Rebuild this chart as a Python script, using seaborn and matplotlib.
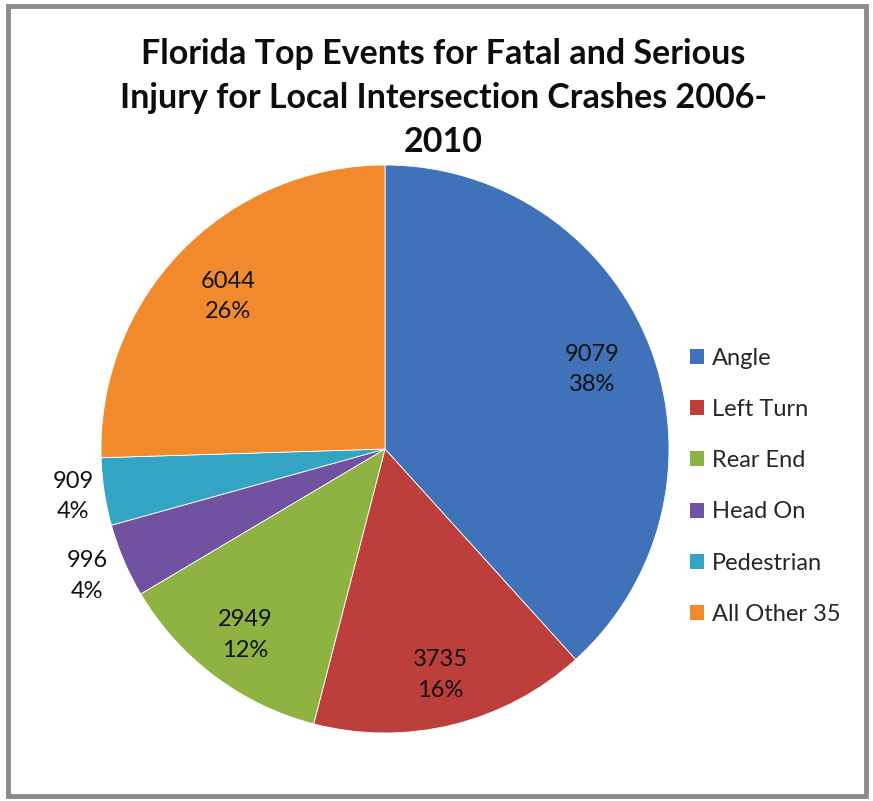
import numpy as np
import matplotlib
matplotlib.use("Agg")
import matplotlib.pyplot as plt
import seaborn as sns
from matplotlib.patches import Rectangle

# data
events = ["Angle", "Left Turn", "Rear End", "Head On", "Pedestrian", "All Other 35"]
counts = [9079, 3735, 2949, 996, 909, 6044]
pct_labels = ["38%", "16%", "12%", "4%", "4%", "26%"]
colors = ["#3f72b9", "#bc3f3c", "#8fb343", "#7152a0", "#34a4c4", "#f08a2c"]
label_dist = [0.78, 0.82, 0.82, 1.14, 1.11, 0.77]

sns.set_theme(style="white")
plt.rcParams["font.family"] = ["Lato", "DejaVu Sans"]

W, H = 873, 801
fig = plt.figure(figsize=(W / 100, H / 100), dpi=100)
fig.patch.set_facecolor("white")

# outer frame
fig.patches.append(Rectangle((8 / W, 5 / H), 858 / W, 790 / H, transform=fig.transFigure,
                             fill=False, edgecolor="#8c8c8c", linewidth=3.5))

# pie axes: center ~ (385, 449) px, radius ~ 284 px
cx, cy, r = 385, 449, 284
ax = fig.add_axes([(cx - r) / W, 1 - (cy + r) / H, 2 * r / W, 2 * r / H])
wedges, _ = ax.pie(counts, colors=colors, startangle=90, counterclock=False,
                   radius=1.0, wedgeprops=dict(edgecolor="white", linewidth=0.6))
ax.set_xlim(-1, 1)
ax.set_ylim(-1, 1)
ax.set_aspect("equal")
ax.axis("off")

for w, n, p, d in zip(wedges, counts, pct_labels, label_dist):
    mid = np.deg2rad((w.theta1 + w.theta2) / 2)
    ax.text(d * np.cos(mid), d * np.sin(mid), f"{n}\n{p}", ha="center", va="center",
            fontsize=17, color="#111111", linespacing=1.55)

# title
fig.text(0.508, 1 - 98 / H, "Florida Top Events for Fatal and Serious\n"
         "Injury for Local Intersection Crashes 2006-\n2010",
         ha="center", va="center", fontsize=24.5, fontweight="bold", linespacing=1.47,
         color="#0d0d0d")

# legend
handles = [Rectangle((0, 0), 1, 1, facecolor=c, edgecolor="none") for c in colors]
fig.legend(handles, events, loc="upper left", bbox_to_anchor=(678 / W, 1 - 336 / H),
           frameon=False, fontsize=17, handlelength=0.6, handleheight=0.6,
           handletextpad=0.35, labelspacing=1.28, borderpad=0)

fig.savefig("out.png", dpi=100)
